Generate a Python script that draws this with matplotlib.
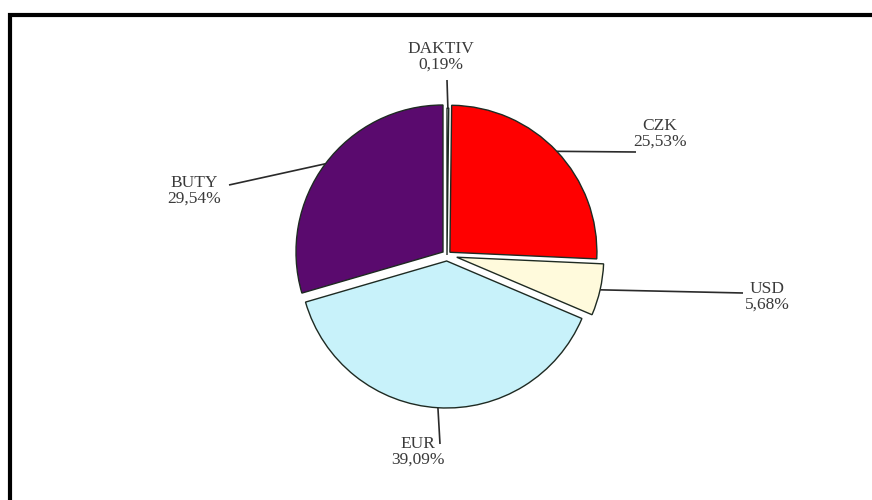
import numpy as np
import matplotlib
matplotlib.use("Agg")
import matplotlib.pyplot as plt
from matplotlib.patches import Rectangle

categories = ["DAKTIV", "CZK", "USD", "EUR", "BUTY"]
values = [0.19, 25.53, 5.68, 39.09, 29.51]
pct_labels = ["0,19%", "25,53%", "5,68%", "39,09%", "29,54%"]
colors = ["#F4F4F4", "#FF0000", "#FFFADC", "#C8F2FA", "#5A0A6E"]
explode_px = [0, 4, 10, 6, 5]

# label placement (pixel coordinates of the canvas, style only)
label_pos = [(441, 57), (660, 134), (767, 297), (418, 452), (194, 191)]
line_end = [(447, 80), (636, 152), (743, 293), (440, 444), (229, 185)]

W, H = 872, 500
fig = plt.figure(figsize=(W / 100, H / 100), dpi=100)
ax = fig.add_axes([0, 0, 1, 1])
ax.set_xlim(0, W)
ax.set_ylim(0, H)
ax.set_aspect("equal")
ax.axis("off")

cx, cy, R = 447, H - 255, 147
wedges, _ = ax.pie(values, colors=colors, explode=explode_px, startangle=90,
                   counterclock=False, center=(cx, cy), radius=R,
                   wedgeprops=dict(edgecolor="#1E2A22", linewidth=1.0),
                   frame=False)
ax.set_xlim(0, W)
ax.set_ylim(0, H)

total = sum(values)
cum = 0
for i, v in enumerate(values):
    mid = 90 - 360 * (cum + v / 2) / total
    cum += v
    a = np.deg2rad(mid)
    r = R + explode_px[i]
    px = cx + r * np.cos(a)
    py = cy + r * np.sin(a)
    ex, ey = line_end[i]
    ax.plot([px, ex], [py, H - ey], color="#2A2A2A", lw=1.2, solid_capstyle="butt")
    lx, ly = label_pos[i]
    ax.text(lx, H - ly, f"{categories[i]}\n{pct_labels[i]}", ha="center", va="center",
            fontsize=12.5, family="Liberation Serif", color="#3A3A3A", linespacing=0.95)

fig.patches.append(Rectangle((10 / W, -0.05), 1.0, (H - 15) / H + 0.05,
                             transform=fig.transFigure, fill=False,
                             edgecolor="black", linewidth=3))
fig.savefig("out.png", dpi=100, facecolor="white")
